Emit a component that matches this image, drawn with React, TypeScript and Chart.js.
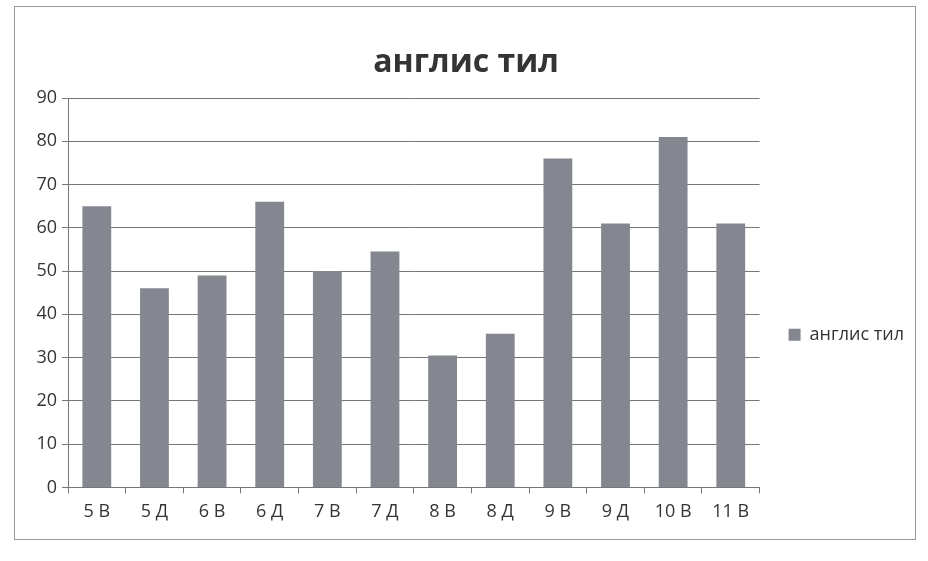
import React, { useEffect, useRef } from "react";
import { Chart, registerables } from "chart.js";

Chart.register(...registerables);

const title = "англис тил";
const seriesName = "англис тил";
const categories = ["5 В", "5 Д", "6 В", "6 Д", "7 В", "7 Д", "8 В", "8 Д", "9 В", "9 Д", "10 В", "11 В"];
const values = [65, 46, 49, 66, 50, 54.5, 30.5, 35.5, 76, 61, 81, 61];
const yMin = 0;
const yMax = 90;
const yStep = 10;

const FONT = "'Open Sans', 'Noto Sans', sans-serif";
const TEXT = "#343434";
const GRID = "#777777";
const BAR = "#858790";

export default function App() {
  const ref = useRef<HTMLCanvasElement | null>(null);
  useEffect(() => {
    if (!ref.current) return;
    const chart = new Chart(ref.current, {
      type: "bar",
      data: {
        labels: categories,
        datasets: [
          {
            label: seriesName,
            data: values,
            backgroundColor: BAR,
            borderWidth: 0,
            categoryPercentage: 1,
            barPercentage: 0.5,
          },
        ],
      },
      options: {
        animation: false,
        responsive: false,
        maintainAspectRatio: false,
        layout: { padding: { left: 18, right: 14, top: 44, bottom: 30 } },
        plugins: {
          title: {
            display: true,
            text: title,
            color: TEXT,
            font: { family: FONT, size: 32, weight: "bold" },
            padding: { top: 0, bottom: 15.6 },
          },
          legend: {
            display: true,
            position: "right",
            title: { display: true, text: "", padding: { top: 80, bottom: 0 } },
            labels: {
              color: TEXT,
              font: { family: FONT, size: 18 },
              boxWidth: 12,
              boxHeight: 12,
              padding: 29,
            },
          },
          tooltip: { enabled: false },
        },
        scales: {
          x: {
            grid: {
              display: true,
              drawOnChartArea: false,
              drawTicks: true,
              offset: true,
              tickLength: 6,
              color: GRID,
            },
            border: { display: true, color: GRID, width: 1 },
            ticks: { color: TEXT, font: { family: FONT, size: 18 }, padding: 8, maxRotation: 0 },
          },
          y: {
            min: yMin,
            max: yMax,
            afterFit: (scale: any) => {
              scale.width = 50;
            },
            ticks: { stepSize: yStep, color: TEXT, font: { family: FONT, size: 18 }, padding: 5 },
            grid: { color: GRID, lineWidth: 1, tickLength: 6, drawTicks: true },
            border: { display: true, color: GRID, width: 1 },
          },
        },
      },
    });
    return () => chart.destroy();
  }, []);
  return (
    <div style={{ position: "fixed", left: 0, top: 0, width: 928, height: 561, background: "#fff" }}>
      <div
        style={{
          position: "absolute",
          left: 14,
          top: 6,
          width: 900,
          height: 532,
          border: "1px solid #9a9a9a",
        }}
      />
      <canvas ref={ref} width={928} height={561} style={{ position: "absolute", left: 0, top: 0 }} />
    </div>
  );
}
